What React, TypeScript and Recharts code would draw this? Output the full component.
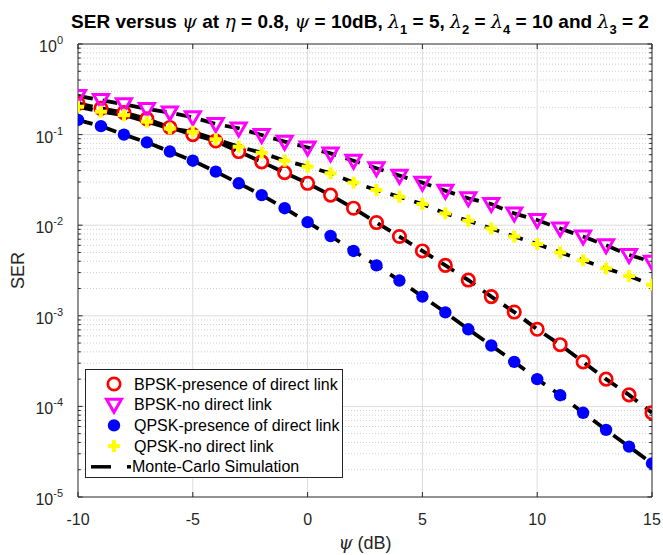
import { ComposedChart, Line, XAxis, YAxis, ReferenceLine, Legend, Customized } from "recharts";

// psi (dB) sample points
const psi = [-10, -9, -8, -7, -6, -5, -4, -3, -2, -1, 0, 1, 2, 3, 4, 5, 6, 7, 8, 9, 10, 11, 12, 13, 14, 15];

const bpskDirect = [0.221, 0.195, 0.175, 0.149, 0.12, 0.1, 0.085, 0.065, 0.05, 0.038, 0.029, 0.0215, 0.0154, 0.0107, 0.0075, 0.0052, 0.0036, 0.00248, 0.00163, 0.0011, 0.00071, 0.00048, 0.00031, 0.0002, 0.000134, 0.000085];
const bpskNoDirect = [0.267, 0.241, 0.216, 0.192, 0.175, 0.155, 0.131, 0.117, 0.099, 0.0835, 0.072, 0.062, 0.0515, 0.0425, 0.0352, 0.0295, 0.024, 0.0198, 0.0171, 0.0135, 0.0114, 0.0092, 0.0075, 0.006, 0.0047, 0.00395];
const qpskDirect = [0.145, 0.124, 0.1, 0.082, 0.065, 0.0515, 0.039, 0.029, 0.0215, 0.0154, 0.0108, 0.0076, 0.0052, 0.0036, 0.00245, 0.00163, 0.00109, 0.00071, 0.00047, 0.00031, 0.0002, 0.000133, 0.000085, 0.000055, 0.000036, 0.0000235];
const qpskNoDirect = [0.203, 0.179, 0.164, 0.139, 0.117, 0.1075, 0.0887, 0.0735, 0.063, 0.0515, 0.0443, 0.0374, 0.0295, 0.0245, 0.0206, 0.0171, 0.0135, 0.0112, 0.0092, 0.0075, 0.0062, 0.005, 0.0041, 0.00334, 0.00275, 0.0022];

const xTicks = [-10, -5, 0, 5, 10, 15];
const yTicks = [1e-5, 1e-4, 1e-3, 1e-2, 1e-1, 1];
const legendNames = [
  "BPSK-presence of direct link",
  "BPSK-no direct link",
  "QPSK-presence of direct link",
  "QPSK-no direct link",
  "Monte-Carlo Simulation",
];

const data = psi.map((x, i) => ({
  x,
  bpskDirect: bpskDirect[i],
  bpskNoDirect: bpskNoDirect[i],
  qpskDirect: qpskDirect[i],
  qpskNoDirect: qpskNoDirect[i],
}));

// minor log gridlines 2..9 per decade
const minorY: number[] = [];
yTicks.slice(0, -1).forEach((d) => {
  for (let k = 2; k <= 9; k++) minorY.push(+(k * d).toPrecision(3));
});

const FONT = "'Liberation Sans', Arial, Helvetica, sans-serif";
const GREEK = "'DejaVu Serif', serif";
const AX = "#262626";
const W = 663;
const H = 555;

// marker shapes
const RedCircle = ({ cx, cy }: any) => <circle cx={cx} cy={cy} r={6.2} fill="none" stroke="#ff0000" strokeWidth={2.7} />;
const MagTri = ({ cx, cy }: any) => (
  <path d={`M${cx - 7.5},${cy - 5.5} L${cx + 7.5},${cy - 5.5} L${cx},${cy + 7.5} Z`} fill="none" stroke="#ff00ff" strokeWidth={3} />
);
const BlueDot = ({ cx, cy }: any) => <circle cx={cx} cy={cy} r={6.2} fill="#0000ff" />;
const YellowPlus = ({ cx, cy }: any) => (
  <g stroke="#ffff00" strokeWidth={4}>
    <line x1={cx - 6} y1={cy} x2={cx + 6} y2={cy} />
    <line x1={cx} y1={cy - 6} x2={cx} y2={cy + 6} />
  </g>
);

const dotOf = (Shape: any) => (p: any) =>
  p.cx == null || p.cy == null ? <g key={p.index} /> : <Shape key={p.index} cx={p.cx} cy={p.cy} />;

const XTick = ({ x, y, payload }: any) => (
  <text x={x} y={y + 26} textAnchor="middle" fontFamily={FONT} fontSize={16} fill={AX}>
    {payload.value}
  </text>
);

const YTick = ({ x, y, payload }: any) => {
  const e = Math.round(Math.log10(payload.value));
  return (
    <text x={x - 13} y={y + 8} textAnchor="end" fontFamily={FONT} fontSize={16} fill={AX}>
      <tspan>10</tspan>
      <tspan dy={-8} fontSize={11}>{e}</tspan>
    </text>
  );
};

const Title = () => {
  const b = { fontWeight: 700 } as const;
  const g = { fontFamily: GREEK, fontStyle: "italic", fontWeight: 400 } as const;
  const s = { fontWeight: 700, fontSize: 13 } as const;
  return (
    <text x={360} y={28} textAnchor="middle" fontFamily={FONT} fontSize={19} fill="#000">
      <tspan style={b}>SER versus </tspan>
      <tspan style={g}>ψ</tspan>
      <tspan style={b}> at </tspan>
      <tspan style={g}>η</tspan>
      <tspan style={b}> = 0.8, </tspan>
      <tspan style={g}>ψ</tspan>
      <tspan style={b}> = 10dB, </tspan>
      <tspan style={g}>λ</tspan>
      <tspan dy={6} style={s}>1</tspan>
      <tspan dy={-6} style={b}> = 5, </tspan>
      <tspan style={g}>λ</tspan>
      <tspan dy={6} style={s}>2</tspan>
      <tspan dy={-6} style={b}> = </tspan>
      <tspan style={g}>λ</tspan>
      <tspan dy={6} style={s}>4</tspan>
      <tspan dy={-6} style={b}> = 10 and </tspan>
      <tspan style={g}>λ</tspan>
      <tspan dy={6} style={s}>3</tspan>
      <tspan dy={-6} style={b}> = 2</tspan>
    </text>
  );
};

const LegendBox = () => {
  const rowY = (i: number) => 14 + i * 20.7;
  const mx = 28;
  return (
    <svg width={258} height={109} style={{ display: "block", background: "#fff", border: `1px solid ${AX}`, boxSizing: "border-box" }}>
      <RedCircle cx={mx} cy={rowY(0)} />
      <MagTri cx={mx} cy={rowY(1)} />
      <BlueDot cx={mx} cy={rowY(2)} />
      <YellowPlus cx={mx} cy={rowY(3)} />
      <line x1={5} y1={rowY(4)} x2={25} y2={rowY(4)} stroke="#000" strokeWidth={3.5} />
      <line x1={41} y1={rowY(4)} x2={45} y2={rowY(4)} stroke="#000" strokeWidth={3.5} />
      {legendNames.map((n, i) => (
        <text key={n} x={i === 4 ? 46 : 48} y={rowY(i) + 5.5} fontFamily={FONT} fontSize={16} fill="#000">
          {n}
        </text>
      ))}
    </svg>
  );
};

const series = [
  { key: "bpskDirect", shape: RedCircle },
  { key: "bpskNoDirect", shape: MagTri },
  { key: "qpskDirect", shape: BlueDot },
  { key: "qpskNoDirect", shape: YellowPlus },
];

const xTickLen = 0.2; // data units (~5px)
const yTickFactor = Math.pow(10, 5 / 90.6);

export default function App() {
  return (
    <div style={{ position: "absolute", left: 0, top: 0, width: W, height: H, background: "#fff" }}>
      <ComposedChart width={W} height={H} data={data} margin={{ top: 44, right: 11, bottom: 0, left: 0 }}>
        {/* minor grid */}
        {minorY.map((v) => (
          <ReferenceLine key={"mg" + v} y={v} stroke="#cfcfcf" strokeDasharray="1 2" strokeWidth={1} />
        ))}
        {/* major grid */}
        {yTicks.slice(1, -1).map((v) => (
          <ReferenceLine key={"g" + v} y={v} stroke="#dcdcdc" strokeWidth={1} />
        ))}
        {xTicks.slice(1, -1).map((v) => (
          <ReferenceLine key={"gx" + v} x={v} stroke="#dcdcdc" strokeWidth={1} />
        ))}
        <XAxis
          dataKey="x"
          type="number"
          domain={[-10, 15]}
          ticks={xTicks}
          tick={<XTick />}
          tickLine={false}
          tickSize={0}
          height={58}
          axisLine={{ stroke: AX }}
          allowDataOverflow
          label={{
            content: ({ viewBox }: any) => (
              <text x={viewBox.x + viewBox.width / 2} y={549} textAnchor="middle" fontFamily={FONT} fontSize={18} fill={AX}>
                <tspan fontFamily={GREEK} fontStyle="italic">ψ</tspan>
                <tspan> (dB)</tspan>
              </text>
            ),
          }}
        />
        <YAxis
          scale="log"
          type="number"
          domain={[1e-5, 1]}
          ticks={yTicks}
          tick={<YTick />}
          tickLine={false}
          tickSize={0}
          width={78}
          axisLine={{ stroke: AX }}
          allowDataOverflow
          label={{
            content: ({ viewBox }: any) => {
              const cy = viewBox.y + viewBox.height / 2;
              return (
                <text x={24} y={cy} transform={`rotate(-90 24 ${cy})`} textAnchor="middle" fontFamily={FONT} fontSize={18} fill={AX}>
                  SER
                </text>
              );
            },
          }}
        />
        {/* box */}
        <ReferenceLine x={15} stroke={AX} strokeWidth={1} />
        <ReferenceLine y={1} stroke={AX} strokeWidth={1} />
        {/* inward ticks */}
        {yTicks.map((v) => (
          <ReferenceLine key={"tl" + v} segment={[{ x: -10, y: v }, { x: -10 + xTickLen, y: v }]} stroke={AX} />
        ))}
        {yTicks.map((v) => (
          <ReferenceLine key={"tr" + v} segment={[{ x: 15 - xTickLen, y: v }, { x: 15, y: v }]} stroke={AX} />
        ))}
        {minorY.map((v) => (
          <ReferenceLine key={"ml" + v} segment={[{ x: -10, y: v }, { x: -10 + xTickLen * 0.6, y: v }]} stroke={AX} />
        ))}
        {minorY.map((v) => (
          <ReferenceLine key={"mr" + v} segment={[{ x: 15 - xTickLen * 0.6, y: v }, { x: 15, y: v }]} stroke={AX} />
        ))}
        {xTicks.map((v) => (
          <ReferenceLine key={"tb" + v} segment={[{ x: v, y: 1e-5 }, { x: v, y: 1e-5 * yTickFactor }]} stroke={AX} />
        ))}
        {xTicks.map((v) => (
          <ReferenceLine key={"tt" + v} segment={[{ x: v, y: 1 / yTickFactor }, { x: v, y: 1 }]} stroke={AX} />
        ))}
        {series.map((s) => (
          <Line
            key={s.key}
            dataKey={s.key}
            stroke="none"
            dot={dotOf(s.shape)}
            activeDot={false}
            isAnimationActive={false}
            legendType="none"
          />
        ))}
        {series.map((s) => (
          <Line
            key={"mc" + s.key}
            dataKey={s.key}
            stroke="#000"
            strokeWidth={3.8}
            strokeDasharray="15 10"
            dot={false}
            activeDot={false}
            isAnimationActive={false}
            legendType="none"
          />
        ))}
        <Legend
          layout="vertical"
          align="center"
          verticalAlign="middle"
          content={() => <LegendBox />}
          wrapperStyle={{ position: "absolute", left: 85, top: 369, width: 258, height: 109, right: "auto", bottom: "auto" }}
        />
        <Customized component={<Title />} />
      </ComposedChart>
    </div>
  );
}
